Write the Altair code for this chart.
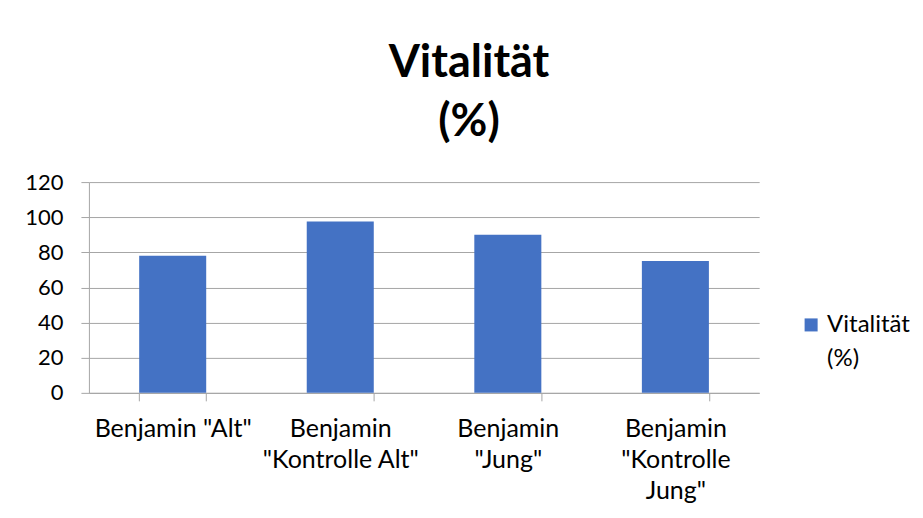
import altair as alt
import pandas as pd

categories = ['Benjamin "Alt"', 'Benjamin "Kontrolle Alt"', 'Benjamin "Jung"', 'Benjamin "Kontrolle Jung"']
label_lines = [['Benjamin "Alt"'], ['Benjamin', '"Kontrolle Alt"'], ['Benjamin', '"Jung"'], ['Benjamin', '"Kontrolle', 'Jung"']]
values = [78, 97.6, 90, 75]
series = "Vitalität (%)"

df = pd.DataFrame({"cat": categories, "val": values, "series": [series] * len(categories)})

label_map = {c: "|".join(l) for c, l in zip(categories, label_lines)}
expr = " : ".join(f"datum.value === {repr(c)} ? split({repr(label_map[c])}, '|')" for c in categories) + " : datum.value"

FONT = "Lato"
GRID = "#a6a6a6"

chart = alt.Chart(df).mark_bar(color="#4472C4").encode(
    x=alt.X("cat:N", sort=categories, title=None,
            scale=alt.Scale(paddingInner=0.6, paddingOuter=0.3),
            axis=alt.Axis(labelAngle=0, labelExpr=expr, labelFontSize=25, labelLineHeight=31,
                          labelColor="#000000", labelFont=FONT, labelPadding=16,
                          ticks=True, tickBand="extent", tickSize=8, tickColor=GRID, tickWidth=1,
                          domain=True, domainColor=GRID, labelLimit=300)),
    y=alt.Y("val:Q", title=None,
            scale=alt.Scale(domain=[0, 120]),
            axis=alt.Axis(values=[0, 20, 40, 60, 80, 100, 120], labelFontSize=22, labelColor="#000000",
                          labelFont=FONT, ticks=True, tickSize=8, tickColor=GRID, domain=True,
                          domainColor=GRID, gridColor=GRID, labelPadding=18, minExtent=81, maxExtent=81)),
    color=alt.Color("series:N", scale=alt.Scale(range=["#4472C4"]),
                    legend=alt.Legend(title=None, orient="none", legendX=711, legendY=131,
                                      symbolType="square", symbolSize=170, symbolStrokeWidth=0,
                                      labelFontSize=24, labelFont=FONT, labelColor="#000000",
                                      labelExpr="split(datum.label, ' ')",
                                      labelLimit=200)),
).properties(
    width=671, height=211,
    title=alt.Title(["Vitalität", "(%)"], fontSize=45, font=FONT, fontWeight="bold", color="#000000",
                    lineHeight=59, anchor="middle", frame="bounds", offset=26, dx=10),
).configure(
    padding={"left": 0, "top": 33, "right": 5, "bottom": 5}, background="white",
    style={"guide-label": {"lineHeight": 34}},
).configure_view(stroke=None)

chart.save("out.html", embed_options={"renderer": "svg", "actions": False})
